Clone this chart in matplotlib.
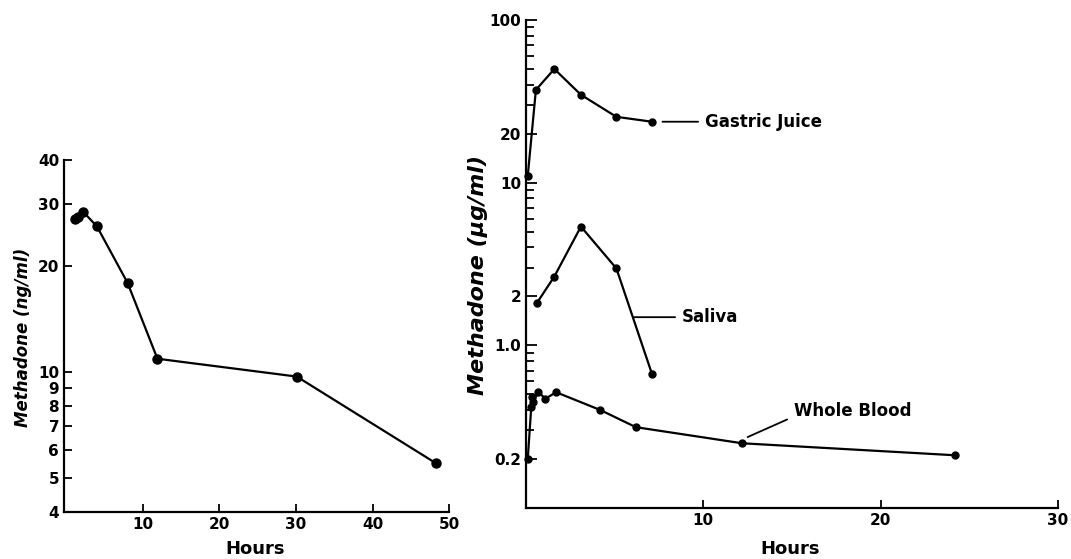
import matplotlib
matplotlib.use('Agg')
import matplotlib.pyplot as plt
from matplotlib.ticker import FixedLocator, FixedFormatter, NullLocator, NullFormatter

# left panel: plasma methadone (ng/ml)
plasma_hours = [1.1, 1.5, 2.2, 4.0, 8.0, 11.9, 30.1, 48.3]
plasma_conc = [27.2, 27.6, 28.5, 25.9, 17.9, 10.9, 9.7, 5.5]
left_yticks = [4, 5, 6, 7, 8, 9, 10, 20, 30, 40]
left_xticks = [10, 20, 30, 40, 50]

# right panel: methadone (ug/ml) in three fluids
gastric_hours = [0.1, 0.56, 1.6, 3.1, 5.1, 7.1]
gastric_conc = [11.0, 37.2, 50.0, 34.7, 25.4, 23.7]
saliva_hours = [0.6, 1.6, 3.1, 5.1, 7.1]
saliva_conc = [1.81, 2.65, 5.37, 2.97, 0.67]
blood_hours = [0.1, 0.3, 0.35, 0.4, 0.7, 1.1, 1.7, 4.2, 6.2, 12.2, 24.2]
blood_conc = [0.2, 0.42, 0.48, 0.45, 0.515, 0.47, 0.515, 0.40, 0.314, 0.25, 0.211]
right_yticks = [0.2, 1.0, 2, 10, 20, 100]
right_ylabels = ['0.2', '1.0', '2', '10', '20', '100']
right_minor = [0.3, 0.4, 0.5, 0.6, 0.7, 0.8, 0.9,
               3, 4, 5, 6, 7, 8, 9,
               30, 40, 50, 60, 70, 80, 90]
right_xticks = [10, 20, 30]

plt.rcParams['font.family'] = 'DejaVu Sans'
plt.rcParams['font.weight'] = 'bold'

fig = plt.figure(figsize=(10.71, 5.59), dpi=100)
ax1 = fig.add_axes([0.0598, 0.0841, 0.3595, 0.6297])
ax2 = fig.add_axes([0.4911, 0.0912, 0.4967, 0.8730])

for ax in (ax1, ax2):
    ax.spines['top'].set_visible(False)
    ax.spines['right'].set_visible(False)
    ax.spines['left'].set_linewidth(1.6)
    ax.spines['bottom'].set_linewidth(1.6)
    ax.set_yscale('log')
    ax.tick_params(which='both', direction='in', width=1.3, labelsize=11)
    ax.tick_params(which='major', length=6)
    ax.tick_params(which='minor', length=6)

# ---- left panel
ax1.plot(plasma_hours, plasma_conc, '-o', color='black', lw=1.6, ms=6.5, clip_on=False)
ax1.set_xlim(-0.3, 50)
ax1.set_ylim(4, 40)
ax1.xaxis.set_major_locator(FixedLocator(left_xticks))
ax1.yaxis.set_major_locator(FixedLocator(left_yticks))
ax1.yaxis.set_major_formatter(FixedFormatter([str(v) for v in left_yticks]))
ax1.yaxis.set_minor_locator(NullLocator())
ax1.set_xlabel('Hours', fontsize=13, fontweight='bold', va='top')
ax1.xaxis.set_label_coords(0.496, -0.08)
ax1.set_ylabel('Methadone (ng/ml)', fontsize=12, fontweight='bold', style='italic')
ax1.yaxis.set_label_coords(-0.083, 0.497)

# ---- right panel
for hrs, conc in [(gastric_hours, gastric_conc), (saliva_hours, saliva_conc),
                  (blood_hours, blood_conc)]:
    ax2.plot(hrs, conc, '-o', color='black', lw=1.6, ms=5, clip_on=False)
ax2.set_xlim(0, 30)
ax2.set_ylim(0.1, 100)
ax2.xaxis.set_major_locator(FixedLocator(right_xticks))
ax2.yaxis.set_major_locator(FixedLocator(right_yticks))
ax2.yaxis.set_major_formatter(FixedFormatter(right_ylabels))
ax2.yaxis.set_minor_locator(FixedLocator(right_minor))
ax2.yaxis.set_minor_formatter(NullFormatter())
ax2.tick_params(axis='y', which='major', length=8)
ax2.set_xlabel('Hours', fontsize=13, fontweight='bold', va='top')
ax2.xaxis.set_label_coords(0.496, -0.066)
ax2.set_ylabel('Methadone (\u03bcg/ml)', fontsize=16, fontweight='bold', style='italic')
ax2.yaxis.set_label_coords(-0.071, 0.477)

line = dict(arrowstyle='-', lw=1.3, color='black', shrinkA=3, shrinkB=0)
ax2.annotate('Gastric Juice', xy=(7.7, 23.7), xytext=(10.1, 23.7),
             fontsize=12, fontweight='bold', va='center', ha='left', arrowprops=line)
ax2.annotate('Saliva', xy=(6.1, 1.49), xytext=(8.8, 1.49),
             fontsize=12, fontweight='bold', va='center', ha='left', arrowprops=line)
ax2.annotate('Whole Blood', xy=(12.5, 0.273), xytext=(15.1, 0.394),
             fontsize=12, fontweight='bold', va='center', ha='left',
             arrowprops=dict(line, relpos=(0, 0.2)))

fig.savefig('out.png', dpi=100)
